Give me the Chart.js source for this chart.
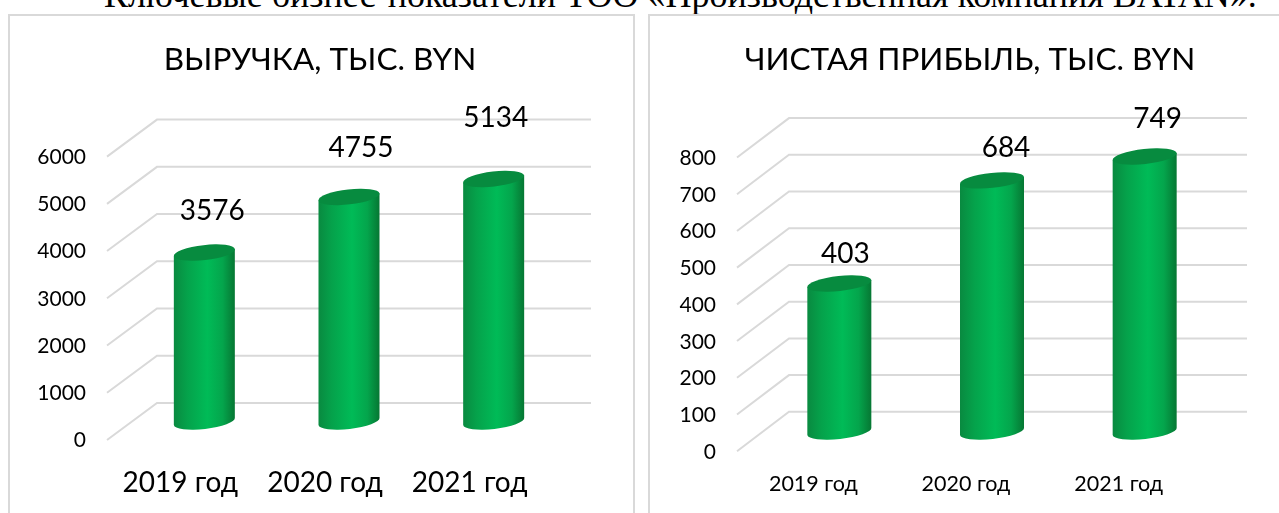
<!DOCTYPE html>
<html>
<head>
<meta charset="utf-8">
<style>
    html, body { margin: 0; padding: 0; background: #fff; overflow: hidden; }
    #page { position: relative; width: 1279px; height: 513px; overflow: hidden; }
    #heading {
        position: absolute; left: 104px; top: -26px; white-space: nowrap;
        font: 36px "Liberation Serif", serif; color: #000;
    }
    .frame { position: absolute; top: 14px; height: 520px; border: 2px solid #d9d9d9; box-sizing: border-box; background: #fff; }
    #frame1 { left: 8px; width: 627px; }
    #frame2 { left: 648px; width: 680px; }
    canvas { position: absolute; top: 0; }
    #revenueChart { left: 0; }
    #profitChart { left: 640px; }
</style>
</head>
<body>
<div id="page">
    <div id="heading">Ключевые бизнес-показатели ТОО «Производственная компания BATAN».</div>
    <div class="frame" id="frame1"></div>
    <div class="frame" id="frame2"></div>
    <canvas id="revenueChart" width="640" height="513"></canvas>
    <canvas id="profitChart" width="639" height="513"></canvas>
</div>
<script src="https://cdn.jsdelivr.net/npm/chart.js@4"></script>
<script>
const categories = ['2019 год', '2020 год', '2021 год'];
const revenueValues = [3576, 4755, 5134];
const profitValues = [403, 684, 749];

// data labels were moved by hand in the original, so they sit at different distances
const revenueLabelShift = [[8, -42], [12, -49], [2, -61]];
const profitLabelShift = [[6, -30], [14, -32], [13, -38]];

const chartFont = 'Lato, "Open Sans", sans-serif';

// fake 3D: grid, floor depth and cylinders are all drawn from the chart scales
const fake3d = {
    id: 'fake3d',
    beforeDatasetsDraw(chart, args, opts) {
        const ctx = chart.ctx;
        const area = chart.chartArea;
        const yScale = chart.scales.y;
        ctx.save();
        ctx.strokeStyle = '#d9d9d9';
        ctx.lineWidth = 2;
        yScale.ticks.forEach((tick) => {
            const y = yScale.getPixelForValue(tick.value);
            ctx.beginPath();
            ctx.moveTo(area.left - opts.depthX, y + opts.depthY);
            ctx.lineTo(area.left + opts.depthX, y - opts.depthY);
            ctx.lineTo(area.right + opts.depthX, y - opts.depthY);
            ctx.stroke();
        });
        ctx.restore();
    },
    afterDatasetsDraw(chart, args, opts) {
        const ctx = chart.ctx;
        const bars = chart.getDatasetMeta(0).data;
        ctx.save();
        bars.forEach((bar, i) => {
            const half = bar.width / 2;
            const rot = Math.atan(opts.tilt / half);
            const major = half / Math.cos(rot);

            const grad = ctx.createLinearGradient(bar.x - half, 0, bar.x + half, 0);
            grad.addColorStop(0, '#098a40');
            grad.addColorStop(0.22, '#05a24b');
            grad.addColorStop(0.55, '#00bb57');
            grad.addColorStop(0.8, '#04a54c');
            grad.addColorStop(1, '#067733');

            // side of the cylinder with the rounded foot
            ctx.beginPath();
            ctx.moveTo(bar.x - half, bar.y + opts.tilt);
            ctx.lineTo(bar.x + half, bar.y - opts.tilt);
            ctx.ellipse(bar.x, bar.base, major, opts.capHeight, -rot, 0, Math.PI);
            ctx.closePath();
            ctx.fillStyle = grad;
            ctx.fill();

            // top cap
            ctx.beginPath();
            ctx.ellipse(bar.x, bar.y, major, opts.capHeight, -rot, 0, Math.PI * 2);
            ctx.fillStyle = '#078b3f';
            ctx.fill();

            // value label
            const shift = opts.labelShift[i];
            ctx.fillStyle = '#000';
            ctx.font = opts.labelSize + 'px ' + chartFont;
            ctx.textAlign = 'center';
            ctx.textBaseline = 'middle';
            ctx.fillText(String(chart.data.datasets[0].data[i]), bar.x + shift[0], bar.y + shift[1]);
        });
        ctx.restore();
    }
};

function makeChart(id, values, o) {
    return new Chart(document.getElementById(id), {
        type: 'bar',
        data: {
            labels: categories,
            datasets: [{ data: values, backgroundColor: 'transparent', barThickness: o.barWidth }]
        },
        options: {
            responsive: false,
            animation: false,
            layout: { autoPadding: false, padding: { left: o.leftPad } },
            plugins: {
                legend: { display: false },
                tooltip: { enabled: false },
                title: {
                    display: true,
                    text: o.title,
                    color: '#000',
                    font: { family: chartFont, size: 31.5, weight: 'normal', lineHeight: 1.2 },
                    padding: { top: o.titleTop, bottom: o.titleBottom }
                },
                fake3d: {
                    depthX: o.depthX,
                    depthY: o.depthY,
                    tilt: 3.5,
                    capHeight: 7.5,
                    labelSize: 28,
                    labelShift: o.labelShift
                }
            },
            scales: {
                x: {
                    grid: { display: false, drawTicks: false },
                    border: { display: false },
                    afterFit(scale) { scale.height = o.axisHeight; },
                    ticks: {
                        color: '#000',
                        maxRotation: 0,
                        font: { family: chartFont, size: o.catSize },
                        padding: o.catPad,
                        labelOffset: o.catOffset
                    }
                },
                y: {
                    min: 0,
                    max: o.max,
                    grid: { display: false, drawTicks: false },
                    border: { display: false },
                    afterFit(scale) { scale.width = o.axisWidth; },
                    ticks: {
                        stepSize: o.step,
                        color: '#000',
                        font: { family: chartFont, size: o.tickSize },
                        padding: o.tickPad,
                        labelOffset: o.tickOffset,
                        callback: (value) => String(value)
                    }
                },
                // empty axis, only reserves room on the right so the title stays centred on the canvas
                spacer: {
                    axis: 'y',
                    position: 'right',
                    grid: { display: false, drawTicks: false },
                    border: { display: false },
                    ticks: { display: false },
                    afterFit(scale) { scale.width = o.rightSpace; }
                }
            }
        },
        plugins: [fake3d]
    });
}

makeChart('revenueChart', revenueValues, {
    title: 'ВЫРУЧКА, ТЫС. BYN',
    max: 6000, step: 1000, barWidth: 61,
    depthX: 25, depthY: 18.5,
    leftPad: 0, axisWidth: 132, rightSpace: 74, axisHeight: 91.5,
    titleTop: 41.3, titleBottom: 59,
    catSize: 28, catPad: 44.5, catOffset: -24,
    tickSize: 21, tickPad: 46, tickOffset: 19,
    labelShift: revenueLabelShift
});

makeChart('profitChart', profitValues, {
    title: 'ЧИСТАЯ ПРИБЫЛЬ, ТЫС. BYN',
    max: 800, step: 100, barWidth: 64,
    depthX: 26, depthY: 19.7,
    leftPad: 21, axisWidth: 102, rightSpace: 58, axisHeight: 81.5,
    titleTop: 41.3, titleBottom: 58.7,
    catSize: 21.5, catPad: 40, catOffset: -26,
    tickSize: 21, tickPad: 47, tickOffset: 20.5,
    labelShift: profitLabelShift
});
</script>
</body>
</html>
